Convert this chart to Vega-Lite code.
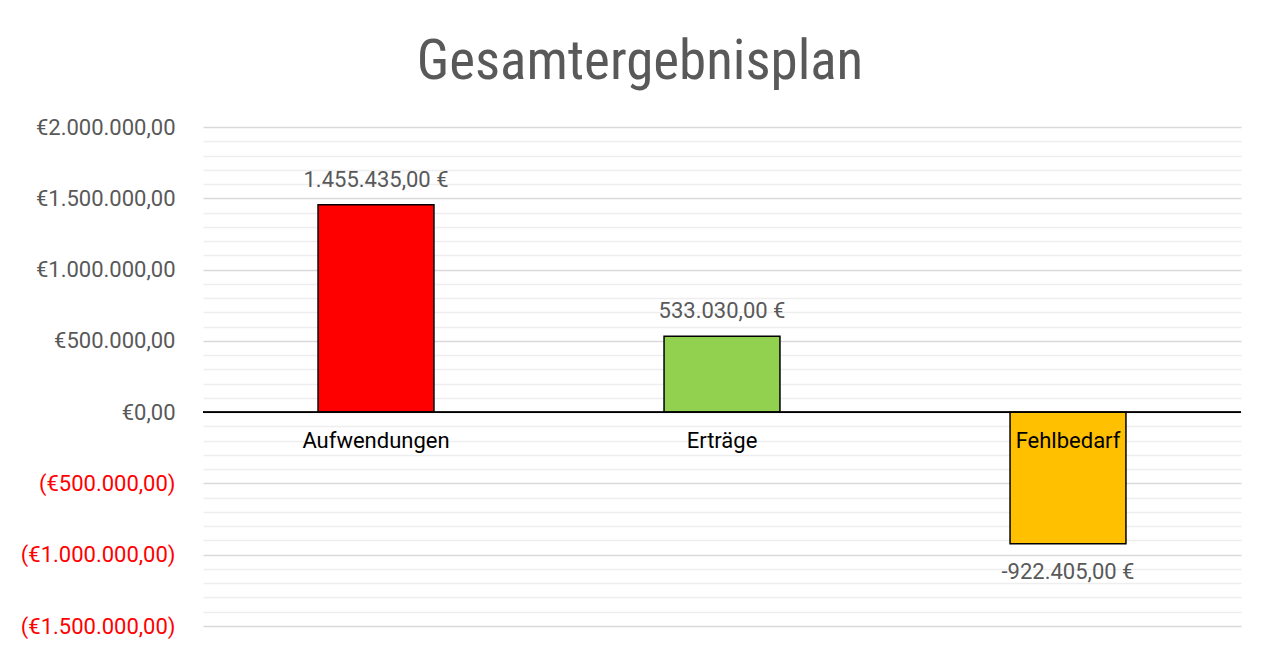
{
  "$schema": "https://vega.github.io/schema/vega-lite/v6.json",
  "autosize": "none",
  "width": 1038,
  "height": 499,
  "padding": {"left": 203, "top": 127, "right": 29, "bottom": 25},
  "background": "white",
  "title": {
    "text": "Gesamtergebnisplan",
    "font": "Liberation Sans Narrow, Roboto Condensed, Roboto",
    "fontSize": 55,
    "fontWeight": "normal",
    "color": "#595959",
    "anchor": "middle",
    "frame": "bounds",
    "offset": 25,
    "dx": 9
  },
  "data": {
    "values": [
      {"Kategorie": "Aufwendungen", "Wert": 1455435},
      {"Kategorie": "Erträge", "Wert": 533030},
      {"Kategorie": "Fehlbedarf", "Wert": -922405}
    ]
  },
  "transform": [
    {"calculate": "(datum.Wert < 0 ? '-' : '') + replace(replace(replace(format(abs(datum.Wert), ',.2f'), regexp(',', 'g'), '#'), '.', ','), regexp('#', 'g'), '.') + ' €'", "as": "Label"}
  ],
  "encoding": {
    "x": {
      "field": "Kategorie",
      "type": "nominal",
      "sort": null,
      "scale": {"paddingInner": 0.665, "paddingOuter": 0.3325},
      "axis": null
    }
  },
  "layer": [
    {
      "mark": {"type": "bar", "stroke": "black", "strokeWidth": 1.5},
      "encoding": {
        "y": {
          "field": "Wert",
          "type": "quantitative",
          "scale": {"domain": [-1500000, 2000000], "nice": false},
          "axis": {
            "title": null,
            "tickCount": 100,
            "values": [-1500000, -1400000, -1300000, -1200000, -1100000, -1000000, -900000, -800000, -700000, -600000, -500000, -400000, -300000, -200000, -100000, 0, 100000, 200000, 300000, 400000, 500000, 600000, 700000, 800000, 900000, 1000000, 1100000, 1200000, 1300000, 1400000, 1500000, 1600000, 1700000, 1800000, 1900000, 2000000],
            "domain": false,
            "ticks": false,
            "labelPadding": 28,
            "labelFont": "Roboto",
            "labelFontSize": 22,
            "labelColor": {"condition": {"test": "datum.value < 0", "value": "#ff0000"}, "value": "#595959"},
            "labelExpr": "datum.value % 500000 !== 0 ? '' : (datum.value < 0 ? '(€' : '€') + replace(replace(replace(format(abs(datum.value), ',.2f'), regexp(',', 'g'), '#'), '.', ','), regexp('#', 'g'), '.') + (datum.value < 0 ? ')' : '')",
            "labelOverlap": false,
            "labelBound": false,
            "labelFlush": false,
            "gridColor": {"condition": {"test": "datum.value % 500000 === 0", "value": "#d9d9d9"}, "value": "#eeeeee"},
            "gridWidth": {"condition": {"test": "datum.value % 500000 === 0", "value": 1.5}, "value": 1.3}
          }
        },
        "color": {
          "field": "Kategorie",
          "type": "nominal",
          "scale": {"domain": ["Aufwendungen", "Erträge", "Fehlbedarf"], "range": ["#ff0000", "#92d050", "#ffc000"]},
          "legend": null
        }
      }
    },
    {
      "mark": {"type": "rule", "color": "black", "strokeWidth": 1.5},
      "encoding": {"y": {"datum": 0, "type": "quantitative"}, "x": {"value": 0}, "x2": {"value": 1038}}
    },
    {
      "mark": {"type": "text", "font": "Roboto", "fontSize": 22, "color": "#000000", "baseline": "middle", "dy": 29},
      "encoding": {
        "y": {"datum": 0, "type": "quantitative"},
        "text": {"field": "Kategorie"}
      }
    },
    {
      "transform": [{"filter": "datum.Wert >= 0"}],
      "mark": {"type": "text", "font": "Roboto", "fontSize": 22, "color": "#595959", "baseline": "middle", "dy": -25},
      "encoding": {
        "y": {"field": "Wert", "type": "quantitative"},
        "text": {"field": "Label"}
      }
    },
    {
      "transform": [{"filter": "datum.Wert < 0"}],
      "mark": {"type": "text", "font": "Roboto", "fontSize": 22, "color": "#595959", "baseline": "middle", "dy": 28},
      "encoding": {
        "y": {"field": "Wert", "type": "quantitative"},
        "text": {"field": "Label"}
      }
    }
  ],
  "config": {"view": {"stroke": null}}
}
